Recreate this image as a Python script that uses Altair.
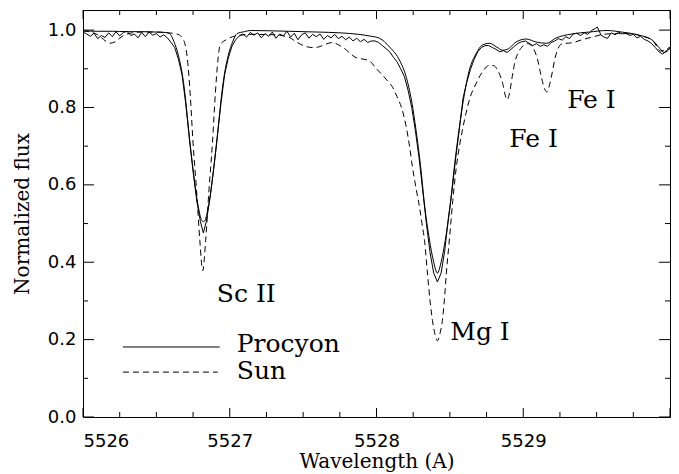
import altair as alt
import pandas as pd

# ---------------- spectra ----------------
# Procyon, observed (noisy) spectrum
obs_wave = [
    5526.000, 5526.025, 5526.050, 5526.075, 5526.100, 5526.125, 5526.150, 5526.175,
    5526.200, 5526.225, 5526.250, 5526.275, 5526.300, 5526.325, 5526.350, 5526.375,
    5526.400, 5526.425, 5526.450, 5526.475, 5526.500, 5526.525, 5526.550, 5526.575,
    5526.600, 5526.625, 5526.650, 5526.675, 5526.700, 5526.725, 5526.750, 5526.775,
    5526.800, 5526.820, 5526.840, 5526.865, 5526.890, 5526.915, 5526.940, 5526.965,
    5526.990, 5527.015, 5527.040, 5527.065, 5527.090, 5527.115, 5527.140, 5527.165,
    5527.190, 5527.215, 5527.240, 5527.265, 5527.290, 5527.315, 5527.340, 5527.365,
    5527.390, 5527.415, 5527.440, 5527.465, 5527.490, 5527.515, 5527.540, 5527.565,
    5527.590, 5527.615, 5527.640, 5527.665, 5527.690, 5527.715, 5527.740, 5527.765,
    5527.790, 5527.815, 5527.840, 5527.865, 5527.890, 5527.915, 5527.940, 5527.965,
    5527.990, 5528.015, 5528.040, 5528.065, 5528.090, 5528.115, 5528.140, 5528.165,
    5528.190, 5528.215, 5528.240, 5528.265, 5528.290, 5528.315, 5528.340, 5528.365,
    5528.390, 5528.415, 5528.440, 5528.465, 5528.490, 5528.515, 5528.540, 5528.565,
    5528.590, 5528.615, 5528.640, 5528.665, 5528.690, 5528.715, 5528.740, 5528.765,
    5528.790, 5528.815, 5528.840, 5528.865, 5528.890, 5528.915, 5528.940, 5528.965,
    5528.990, 5529.015, 5529.040, 5529.065, 5529.090, 5529.115, 5529.140, 5529.165,
    5529.190, 5529.215, 5529.240, 5529.265, 5529.290, 5529.315, 5529.340, 5529.365,
    5529.390, 5529.415, 5529.440, 5529.465, 5529.490, 5529.505, 5529.530, 5529.555,
    5529.575, 5529.600, 5529.625, 5529.650, 5529.675, 5529.700, 5529.725, 5529.750,
    5529.775, 5529.800, 5529.825, 5529.850, 5529.875, 5529.900, 5529.925, 5529.950,
    5529.975, 5530.000,
]
obs_flux = [
    0.995, 0.990, 0.984, 0.992, 0.978, 0.986, 0.981, 0.993,
    0.983, 0.996, 0.985, 0.994, 0.997, 0.986, 0.990, 0.980,
    0.994, 0.983, 0.995, 0.987, 0.991, 0.982, 0.988, 0.980,
    0.968, 0.955, 0.925, 0.885, 0.810, 0.718, 0.635, 0.560,
    0.505, 0.476, 0.505, 0.565, 0.640, 0.725, 0.810, 0.885,
    0.928, 0.958, 0.975, 0.985, 0.990, 0.982, 0.994, 0.987,
    0.993, 0.980, 0.991, 0.984, 0.995, 0.979, 0.990, 0.985,
    0.997, 0.982, 0.992, 0.975, 0.988, 0.993, 0.979, 0.989,
    0.983, 0.990, 0.976, 0.986, 0.980, 0.989, 0.978, 0.984,
    0.975, 0.982, 0.972, 0.979, 0.970, 0.976, 0.968, 0.972,
    0.972, 0.968, 0.960, 0.952, 0.944, 0.930, 0.918, 0.900,
    0.880, 0.845, 0.800, 0.740, 0.670, 0.585, 0.500, 0.425,
    0.372, 0.349, 0.372, 0.430, 0.515, 0.585, 0.670, 0.745,
    0.825, 0.865, 0.898, 0.924, 0.944, 0.955, 0.960, 0.960,
    0.955, 0.950, 0.944, 0.947, 0.942, 0.950, 0.958, 0.966,
    0.970, 0.972, 0.966, 0.960, 0.965, 0.958, 0.962, 0.958,
    0.968, 0.972, 0.978, 0.974, 0.983, 0.978, 0.990, 0.992,
    0.986, 0.993, 0.989, 0.999, 1.004, 1.008, 0.987, 0.981,
    0.979, 0.993, 0.988, 0.995, 0.990, 0.993, 0.986, 0.989,
    0.980, 0.984, 0.976, 0.972, 0.965, 0.955, 0.944, 0.938,
    0.947, 0.953,
]

# Procyon, synthetic (smooth) spectrum
mod_wave = [
    5526.00, 5526.10, 5526.20, 5526.30, 5526.40, 5526.50, 5526.56, 5526.59,
    5526.62, 5526.65, 5526.67, 5526.69, 5526.71, 5526.73, 5526.75, 5526.77,
    5526.79, 5526.81, 5526.82, 5526.83, 5526.85, 5526.87, 5526.89, 5526.91,
    5526.93, 5526.95, 5526.97, 5526.99, 5527.02, 5527.05, 5527.10, 5527.14,
    5527.40, 5527.60, 5527.75, 5527.88, 5527.95, 5528.02, 5528.09, 5528.16,
    5528.20, 5528.24, 5528.27, 5528.30, 5528.33, 5528.36, 5528.39, 5528.415,
    5528.44, 5528.47, 5528.50, 5528.53, 5528.565, 5528.60, 5528.63, 5528.68,
    5528.72, 5528.77, 5528.82, 5528.86, 5528.90, 5528.95, 5529.02, 5529.09,
    5529.16, 5529.22, 5529.33, 5529.45, 5529.57, 5529.67, 5529.79, 5529.88,
    5529.93, 5529.96, 5530.00,
]
mod_flux = [
    0.998, 0.997, 0.997, 0.996, 0.996, 0.995, 0.994, 0.991,
    0.970, 0.935, 0.900, 0.850, 0.780, 0.705, 0.640, 0.580,
    0.535, 0.507, 0.505, 0.507, 0.535, 0.580, 0.640, 0.705,
    0.780, 0.850, 0.900, 0.935, 0.970, 0.991, 0.996, 0.999,
    0.997, 0.995, 0.993, 0.989, 0.985, 0.979, 0.956, 0.920,
    0.882, 0.815, 0.740, 0.650, 0.540, 0.460, 0.400, 0.372,
    0.400, 0.460, 0.540, 0.645, 0.750, 0.837, 0.893, 0.940,
    0.961, 0.966, 0.956, 0.948, 0.952, 0.969, 0.977, 0.969,
    0.966, 0.979, 0.990, 0.995, 0.999, 0.995, 0.987, 0.974,
    0.953, 0.942, 0.953,
]

# Sun (solar flux spectrum)
sun_wave = [
    5526.00, 5526.05, 5526.10, 5526.14, 5526.18, 5526.22, 5526.26, 5526.32,
    5526.40, 5526.50, 5526.58, 5526.64, 5526.68, 5526.71, 5526.73, 5526.75,
    5526.775, 5526.796, 5526.816, 5526.836, 5526.857, 5526.882, 5526.902, 5526.920,
    5526.935, 5526.98, 5527.04, 5527.15, 5527.30, 5527.40, 5527.46, 5527.51,
    5527.56, 5527.60, 5527.65, 5527.70, 5527.74, 5527.78, 5527.82, 5527.86,
    5527.91, 5527.95, 5528.00, 5528.04, 5528.07, 5528.11, 5528.14, 5528.17,
    5528.20, 5528.225, 5528.245, 5528.27, 5528.293, 5528.31, 5528.327, 5528.347,
    5528.365, 5528.381, 5528.398, 5528.415, 5528.432, 5528.449, 5528.462, 5528.476,
    5528.497, 5528.52, 5528.544, 5528.565, 5528.585, 5528.61, 5528.633, 5528.68,
    5528.72, 5528.77, 5528.80, 5528.82, 5528.84, 5528.86, 5528.875, 5528.89,
    5528.905, 5528.925, 5528.94, 5528.96, 5528.99, 5529.03, 5529.06, 5529.08,
    5529.10, 5529.12, 5529.145, 5529.163, 5529.18, 5529.20, 5529.215, 5529.235,
    5529.265, 5529.33, 5529.40, 5529.47, 5529.565, 5529.65, 5529.74, 5529.81,
    5529.88, 5529.91, 5529.935, 5529.96, 5530.00,
]
sun_flux = [
    0.998, 0.995, 0.988, 0.976, 0.966, 0.970, 0.982, 0.992,
    0.995, 0.995, 0.993, 0.990, 0.978, 0.930, 0.837, 0.708,
    0.579, 0.457, 0.378, 0.457, 0.579, 0.708, 0.837, 0.925,
    0.962, 0.976, 0.985, 0.989, 0.988, 0.982, 0.968, 0.959,
    0.955, 0.956, 0.963, 0.968, 0.962, 0.953, 0.940, 0.929,
    0.925, 0.921, 0.900, 0.884, 0.871, 0.852, 0.828, 0.800,
    0.755, 0.700, 0.646, 0.590, 0.543, 0.500, 0.457, 0.372,
    0.300, 0.250, 0.215, 0.197, 0.215, 0.250, 0.300, 0.372,
    0.460, 0.560, 0.646, 0.700, 0.741, 0.785, 0.820, 0.863,
    0.891, 0.909, 0.908, 0.900, 0.885, 0.862, 0.835, 0.820,
    0.835, 0.880, 0.912, 0.937, 0.956, 0.965, 0.958, 0.944,
    0.920, 0.885, 0.848, 0.840, 0.860, 0.895, 0.925, 0.950,
    0.965, 0.967, 0.975, 0.982, 0.990, 0.991, 0.990, 0.984,
    0.974, 0.958, 0.946, 0.948, 0.956,
]

# ---------------- axes ----------------
x_major = [5526, 5527, 5528, 5529, 5530]
x_minor = [5526.25, 5526.5, 5526.75, 5527.25, 5527.5, 5527.75,
           5528.25, 5528.5, 5528.75, 5529.25, 5529.5, 5529.75]
x_labels = [5526, 5527, 5528, 5529]
y_major = [0.0, 0.2, 0.4, 0.6, 0.8, 1.0]
y_minor = [0.1, 0.3, 0.5, 0.7, 0.9]

# ---------------- annotations ----------------
line_ids = ["Sc II", "Mg I", "Fe I", "Fe I"]
line_id_wave = [5526.912, 5528.503, 5528.905, 5529.299]
line_id_flux = [0.297, 0.199, 0.698, 0.798]

legend_names = ["Procyon", "Sun"]
legend_x0 = [5526.272, 5526.272]
legend_x1 = [5526.932, 5526.918]
legend_y = [0.181, 0.116]
legend_text_x = [5527.048, 5527.048]
legend_text_y = [0.168, 0.098]

W, H = 587, 407
XS = alt.Scale(domain=[5526, 5530], nice=False, zero=False)
YS = alt.Scale(domain=[0, 1.052], nice=False, zero=False)

obs = pd.DataFrame({"wave": obs_wave, "flux": obs_flux})
mod = pd.DataFrame({"wave": mod_wave, "flux": mod_flux})
sun = pd.DataFrame({"wave": sun_wave, "flux": sun_flux})

# one shared axis definition per channel, used by every layer
X_AXIS = alt.Axis(
    values=x_labels, format="d", ticks=False, tickSize=0, domain=False, grid=False,
    labelFont="DejaVu Sans", labelFontSize=18, labelColor="black", labelPadding=15,
    title="Wavelength (A)", titleFont="DejaVu Serif", titleFontSize=20,
    titleFontWeight="normal", titleColor="black", titleY=50,
    titleBaseline="alphabetic",
)
Y_AXIS = alt.Axis(
    values=y_major, format=".1f", ticks=False, tickSize=0, domain=False, grid=False,
    labelFont="DejaVu Sans", labelFontSize=18, labelColor="black", labelPadding=7,
    title="Normalized flux", titleFont="DejaVu Serif", titleFontSize=20,
    titleFontWeight="normal", titleColor="black", titleAngle=270,
    titleX=-55, titleY=H / 2, titleBaseline="alphabetic", titleAlign="center",
)


def X(field):
    return alt.X(field, scale=XS, axis=X_AXIS)


def Y(field):
    return alt.Y(field, scale=YS, axis=Y_AXIS)


obs_line = alt.Chart(obs).mark_line(color="black", strokeWidth=1).encode(
    x=X("wave:Q"), y=Y("flux:Q"),
)
mod_line = alt.Chart(mod).mark_line(color="black", strokeWidth=1, interpolate="monotone").encode(
    x=X("wave:Q"), y=Y("flux:Q"),
)
sun_line = alt.Chart(sun).mark_line(
    color="black", strokeWidth=1, strokeDash=[6, 4], interpolate="monotone"
).encode(
    x=X("wave:Q"), y=Y("flux:Q"),
)


# inward-pointing tick marks on all four sides
def xticks(values, length):
    df = pd.DataFrame({"wave": values})
    base = alt.Chart(df).mark_rule(color="black", strokeWidth=1)
    bottom = base.encode(x=X("wave:Q"), y=alt.value(H), y2=alt.value(H - length))
    top = base.encode(x=X("wave:Q"), y=alt.value(0), y2=alt.value(length))
    return bottom + top


def yticks(values, length):
    df = pd.DataFrame({"flux": values})
    base = alt.Chart(df).mark_rule(color="black", strokeWidth=1)
    left = base.encode(y=Y("flux:Q"), x=alt.value(0), x2=alt.value(length))
    right = base.encode(y=Y("flux:Q"), x=alt.value(W), x2=alt.value(W - length))
    return left + right


ticks = xticks(x_major, 9) + xticks(x_minor, 5) + yticks(y_major, 11) + yticks(y_minor, 5)

ids = pd.DataFrame({"label": line_ids, "wave": line_id_wave, "flux": line_id_flux})
id_text = alt.Chart(ids).mark_text(
    align="left", baseline="alphabetic", font="DejaVu Serif", fontSize=25, color="black"
).encode(
    x=X("wave:Q"), y=Y("flux:Q"), text="label:N",
)

leg = pd.DataFrame({
    "name": legend_names, "wave": legend_x0, "wave2": legend_x1, "flux": legend_y,
})
leg_txt = pd.DataFrame({
    "name": legend_names, "wave": legend_text_x, "flux": legend_text_y,
})
leg_solid = alt.Chart(leg[leg["name"] == "Procyon"]).mark_rule(
    color="black", strokeWidth=1
).encode(x=X("wave:Q"), x2="wave2:Q", y=Y("flux:Q"))
leg_dash = alt.Chart(leg[leg["name"] == "Sun"]).mark_rule(
    color="black", strokeWidth=1, strokeDash=[6, 4]
).encode(x=X("wave:Q"), x2="wave2:Q", y=Y("flux:Q"))
leg_text = alt.Chart(leg_txt).mark_text(
    align="left", baseline="alphabetic", font="DejaVu Serif", fontSize=25, color="black"
).encode(x=X("wave:Q"), y=Y("flux:Q"), text="name:N")

chart = alt.layer(
    obs_line, mod_line, sun_line, ticks, id_text, leg_solid, leg_dash, leg_text
).properties(
    width=W, height=H,
    autosize=alt.AutoSizeParams(type="none"),
    padding={"left": 83, "top": 10, "right": 9, "bottom": 57},
    background="white",
).configure_view(stroke="black", strokeWidth=1)

chart.save("out.html", embed_options={"renderer": "svg", "actions": False})
